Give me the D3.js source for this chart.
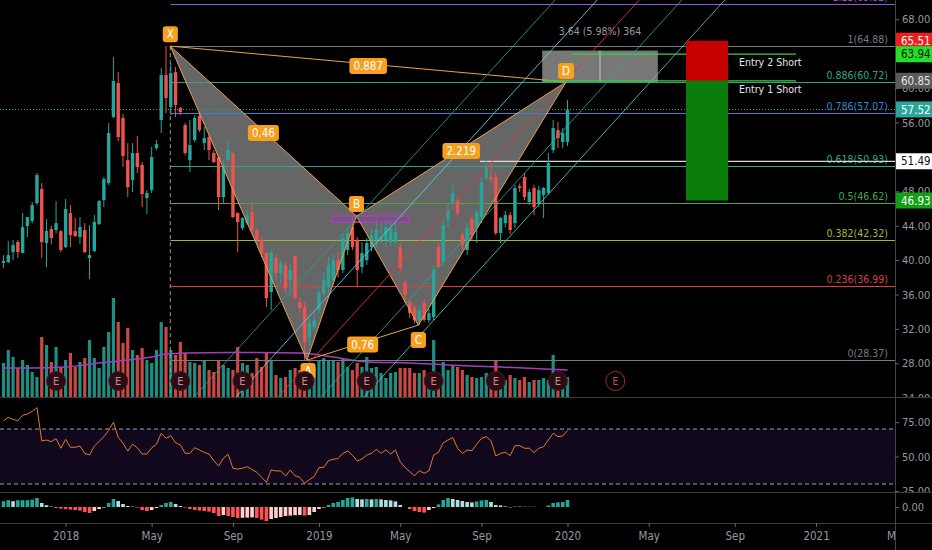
<!DOCTYPE html>
<html>
<head>
<meta charset="utf-8">
<script src="https://d3js.org/d3.v7.min.js"></script>
<style>
html, body { margin: 0; padding: 0; background: #000; }
svg { display: block; font-family: "Liberation Sans Narrow", "DejaVu Sans Condensed", Roboto, sans-serif; }
</style>
</head>
<body>
<svg id="chart" width="932" height="550"></svg>
<script>
/* weekly bars, Oct 2017 - Jan 2020 */
var firstWeek = new Date(2017, 9, 2);
var lastWeek = new Date(2020, 0, 6);
var weeks = d3.timeMonday.range(firstWeek, d3.timeDay.offset(lastWeek, 1));

var open = [
  39.66, 39.77, 40.93, 42.10, 40.82, 43.96, 44.54, 46.63, 48.26, 41.98,
  43.61, 43.49, 43.37, 41.51, 45.47, 43.37, 42.68, 43.49, 40.24, 41.05,
  44.19, 46.98, 48.96, 56.63, 60.59, 56.52, 51.63, 49.31, 52.45, 51.05,
  47.21, 48.14, 53.02, 56.29, 61.51, 57.80, 61.86, 57.68, 55.70, 51.63,
  53.96, 56.75, 53.61, 54.31, 52.45, 51.98, 47.33, 51.63, 52.45, 45.47,
  43.72, 44.30, 45.58, 43.49, 42.33, 40.82, 36.28, 40.24, 38.49, 39.42,
  37.69, 40.47, 35.12, 34.54, 31.05, 32.21, 34.19, 36.16, 36.86, 37.68,
  40.00, 38.84, 41.17, 43.84, 42.33, 39.19, 40.00, 41.51, 42.33, 42.33,
  42.33, 42.10, 42.10, 41.51, 37.33, 35.12, 34.42, 33.03, 35.00, 33.03,
  33.38, 41.51, 39.77, 44.66, 46.63, 46.98, 42.90, 41.17, 44.77, 43.84,
  45.00, 49.54, 49.66, 49.66, 43.14, 44.30, 45.23, 44.30, 48.60, 49.66,
  46.75, 48.38, 46.63, 47.56, 47.80, 52.80, 55.12, 53.73, 53.73
];
var high = [
  40.58, 42.21, 42.33, 42.33, 45.47, 45.00, 46.75, 50.12, 48.96, 44.77,
  43.96, 46.86, 43.49, 47.10, 46.40, 44.89, 45.00, 44.30, 44.07, 45.24,
  46.98, 49.66, 55.93, 63.61, 61.86, 56.98, 53.60, 53.60, 54.43, 51.40,
  48.14, 53.14, 53.96, 62.33, 64.88, 62.91, 62.45, 57.80, 55.93, 56.29,
  56.86, 57.21, 55.47, 54.54, 52.80, 52.21, 51.63, 53.96, 52.56, 45.58,
  45.00, 45.82, 46.75, 43.72, 42.56, 40.93, 41.17, 40.59, 40.00, 39.66,
  39.66, 40.59, 35.70, 35.10, 33.26, 33.84, 36.86, 38.50, 40.35, 40.60,
  40.90, 43.14, 43.84, 45.12, 42.70, 42.10, 42.56, 43.72, 44.66, 44.30,
  44.66, 44.54, 44.43, 41.98, 37.68, 35.35, 34.77, 34.65, 35.35, 34.30,
  39.42, 41.98, 44.80, 46.40, 48.72, 47.33, 43.30, 44.30, 45.20, 45.82,
  49.66, 51.63, 51.30, 50.12, 45.00, 45.70, 45.60, 48.72, 48.90, 50.12,
  48.30, 48.72, 48.60, 48.50, 52.45, 56.30, 56.05, 55.35, 58.62
];
var low = [
  39.07, 39.65, 40.00, 40.24, 40.82, 42.68, 44.30, 46.40, 40.24, 39.19,
  41.86, 43.14, 40.93, 41.40, 41.51, 42.68, 41.86, 40.82, 37.79, 40.93,
  44.07, 46.17, 48.72, 56.52, 53.84, 50.82, 47.33, 47.91, 50.12, 46.17,
  45.35, 47.80, 52.79, 54.77, 57.10, 56.86, 56.63, 56.90, 52.21, 50.24,
  53.73, 54.89, 52.80, 51.63, 51.28, 45.82, 46.63, 51.40, 44.88, 40.93,
  43.49, 44.07, 43.14, 41.98, 40.35, 34.54, 34.19, 37.69, 37.33, 36.17,
  35.70, 35.35, 33.84, 28.37, 30.12, 31.86, 33.84, 35.80, 36.16, 37.20,
  38.00, 38.49, 40.60, 41.17, 36.86, 38.49, 39.42, 41.05, 41.51, 41.98,
  41.51, 41.63, 41.75, 38.49, 35.00, 33.26, 32.68, 32.44, 32.79, 32.70,
  33.03, 39.07, 39.40, 43.84, 45.82, 45.00, 41.20, 40.60, 42.30, 41.98,
  44.30, 49.31, 48.96, 42.90, 41.98, 43.80, 43.00, 43.72, 47.90, 46.98,
  46.40, 45.23, 46.20, 44.89, 47.56, 52.45, 53.03, 53.03, 53.26
];
var close = [
  39.89, 40.58, 41.75, 40.93, 43.84, 45.00, 46.40, 49.89, 42.10, 43.38,
  42.56, 44.30, 41.16, 45.93, 42.91, 42.79, 43.84, 40.93, 40.58, 44.42,
  46.86, 49.42, 54.77, 60.82, 54.31, 52.10, 48.49, 52.45, 50.82, 47.68,
  47.80, 51.98, 53.49, 61.51, 58.84, 61.75, 58.03, 57.21, 52.45, 53.37,
  56.52, 55.12, 54.19, 52.80, 51.40, 47.33, 51.05, 52.80, 45.00, 44.42,
  44.89, 45.23, 43.49, 42.33, 40.82, 35.58, 40.82, 38.49, 39.66, 36.75,
  38.85, 35.58, 34.42, 30.47, 32.68, 33.03, 36.28, 37.68, 39.42, 40.00,
  38.84, 42.56, 43.14, 41.51, 38.84, 40.82, 41.98, 42.91, 43.49, 42.68,
  43.84, 43.72, 43.26, 39.07, 35.93, 33.84, 33.03, 34.19, 33.03, 33.84,
  38.84, 39.19, 44.07, 45.82, 47.80, 45.47, 41.75, 43.72, 42.90, 45.58,
  49.08, 50.82, 49.31, 43.14, 44.89, 45.23, 43.50, 48.38, 48.40, 47.33,
  47.91, 46.17, 48.14, 48.38, 51.28, 55.35, 54.19, 54.77, 57.52
];
// volume in millions
var volume = [
  3.4, 4.7, 4.0, 2.9, 3.7, 3.2, 2.5, 2.0, 6.0, 5.2,
  3.5, 5.0, 2.9, 3.7, 4.4, 3.0, 3.5, 3.9, 5.7, 3.9,
  2.9, 5.0, 6.5, 9.9, 7.5, 5.4, 6.9, 4.7, 4.2, 4.9,
  3.7, 3.4, 4.7, 7.5, 7.0, 4.7, 4.2, 5.5, 4.4, 3.5,
  3.4, 3.2, 3.7, 2.7, 2.5, 3.7, 3.2, 2.9, 2.7, 5.0,
  3.4, 3.2, 2.4, 3.9, 3.0, 4.4, 3.7, 2.2, 1.9, 2.0,
  2.7, 2.9, 2.7, 3.0, 2.9, 3.0, 3.7, 3.9, 3.7, 3.7,
  3.5, 3.9, 3.0, 2.7, 3.4, 3.0, 4.0, 2.9, 3.0, 2.4,
  1.9, 2.4, 2.5, 2.9, 2.9, 2.9, 2.4, 2.4, 2.7, 2.2,
  5.7, 2.4, 3.5, 2.7, 3.2, 3.0, 2.7, 2.2, 2.0, 1.9,
  2.0, 2.4, 1.9, 3.7, 2.2, 1.7, 2.2, 1.9, 1.7, 2.0,
  1.5, 1.7, 1.7, 1.9, 1.7, 4.2, 2.2, 1.5, 2.0
];
var volMaWeek = [0, 6, 13, 20, 26, 31, 34, 38, 50, 62, 69, 76, 85, 93, 104, 118];
var volMaValue = [2.9, 2.9, 3.0, 3.4, 3.7, 4.0, 4.3, 4.4, 4.45, 4.4, 4.0, 3.5, 3.4, 3.2, 3.0, 2.7];
var rsi = [
  76, 78.5, 77, 76, 80, 80.9, 82.8, 85.5, 61.3, 62,
  60.8, 63, 56, 62.5, 56.7, 56.7, 57.6, 52.3, 51.1, 57.5,
  61, 64.4, 69, 74.9, 64, 59.6, 54, 58.9, 56.4, 51.8,
  51.8, 56.3, 58.9, 66.9, 63.2, 65.1, 60, 58.4, 52.3, 52.3,
  56.4, 54.7, 53, 51.8, 47, 43.1, 48.7, 51.6, 41.4, 40.9,
  41.4, 42.6, 40.5, 38.5, 35, 31.2, 40.2, 39.5, 39.5, 35.8,
  40.2, 36, 34.8, 30.5, 33.2, 35.5, 41.9, 42.1, 47, 48,
  48.5, 52.3, 54, 51, 46.7, 48.2, 51, 52.3, 55.2, 52.3,
  54.7, 51.8, 54.7, 46.2, 42.1, 39, 36, 39.7, 37.8, 39.5,
  51.1, 53, 60, 62, 63.7, 56, 52.3, 54.7, 54.2, 58.9,
  63.2, 64.4, 61.5, 50.4, 52.3, 53, 50.6, 57.9, 57.9, 56,
  56, 52.8, 56, 57.1, 62, 66.9, 64.4, 64.9, 68.8
];
var macdHist = [
  .29, .34, .29, .34, .34, .34, .37, .45, .20, .09,
  .02, -.05, -.08, -.10, -.13, -.15, -.18, -.25, -.30, -.20,
  -.10, -.03, .20, .40, .30, .15, .05, .02, -.03, -.15,
  -.20, -.15, -.05, .10, .20, .25, .15, .05, -.03, -.10,
  -.15, -.18, -.20, -.23, -.30, -.45, -.40, -.45, -.50, -.55,
  -.54, -.53, -.52, -.55, -.63, -.70, -.60, -.55, -.50, -.45,
  -.43, -.41, -.40, -.43, -.40, -.25, -.10, -.03, .10, .20,
  .25, .35, .45, .48, .40, .38, .40, .38, .40, .38,
  .35, .33, .28, .10, 0, -.10, -.20, -.25, -.28, -.15,
  -.05, .13, .35, .45, .40, .35, .30, .25, .23, .28,
  .33, .35, .25, .10, .08, .03, -.03, .03, .02, .02,
  .02, .01, 0, 0, .08, .20, .23, .25, .35
];
var earningsWeek = [11, 24, 37, 50, 63, 76, 90, 103, 116, 128];

/* fib retracement of the XA leg */
var fibRatio = ['1.13', '1', '0.886', '0.786', '0.618', '0.5', '0.382', '0.236', '0'];
var fibPrice = [69.82, 64.88, 60.72, 57.07, 50.93, 46.62, 42.32, 36.99, 28.37];
var fibColor = ['#8e5bc8', '#787b86', '#2fa58c', '#3d7fd0', '#2fa58c', '#45a845', '#a6b43c', '#d9403f', '#787b86'];

/* XABCD pattern (week number from first bar, price) */
var patName = ['X', 'A', 'B', 'C', 'D'];
var patWeek = [34.9, 63.5, 73.85, 86.8, 117.7];
var patPrice = [64.88, 28.37, 45.12, 32.44, 60.72];
var patRatio = ['0.46', '0.887', '2.219', '0.76'];

/* pitchfork-style parallel lines */
var forkStartWeek = [39.85, 48.64, 57.43, 66.42, 75.42];
var forkEndWeek = [115.4, 124.2, 133.0, 141.9, 150.9];
var forkStartPrice = 24.08, forkEndPrice = 70.24;
var forkColor = ['#2b9e8f', '#5fd3e8', '#e53935', '#26a69a', '#52c7c9'];

var measureWeek = [112.7, 124.8, 136.9];
var measurePrice = [60.72, 64.36];
var entryPrice = [63.94, 60.85];
var entryStartWeek = [118.9, 112.7];
var entryEndWeek = 165.8;
var entryText = ['Entry 2 Short', 'Entry 1 Short'];
var positionWeek = [142.8, 151.6];
var stopPrice = 65.51, targetPrice = 46.93;
var whiteLinePrice = 51.49, whiteLineWeek = 99.7;
var lastPrice = 57.52;
// 64.00 and 52.00 sit fully behind the price labels, so they are left out
var priceTicks = [24, 28, 32, 36, 40, 44, 48, 56, 60, 68];

var axisLabels = [65.51, 63.94, 60.85, 57.52, 51.49, 46.93];
var axisLabelBg = ['#f21c1c', '#22e022', '#5a5a5a', '#2aa69a', '#ffffff', '#12a012'];
var axisLabelFg = ['#ffffff', '#111111', '#e6e6e6', '#ffffff', '#111111', '#ffffff'];

/* layout */
var width = 932, height = 550;
var axisX = 895;
var mainBottom = 397, rsiBottom = 492, macdBottom = 523;
var fontFam = '"Liberation Sans Narrow", "DejaVu Sans Condensed", Roboto, sans-serif';

var svg = d3.select('#chart');
var defs = svg.append('defs');
function addClip(id, x, y, w, h) {
    defs.append('clipPath').attr('id', id).append('rect')
        .attr('x', x).attr('y', y).attr('width', w).attr('height', h);
}
addClip('clipMain', 0, 0, axisX, mainBottom);
addClip('clipRsi', 0, mainBottom, axisX, rsiBottom - mainBottom);
addClip('clipMacd', 0, rsiBottom, axisX, macdBottom - rsiBottom);
addClip('clipAxisMain', axisX, 0, width - axisX, mainBottom);
addClip('clipAxisRsi', axisX, mainBottom, width - axisX, rsiBottom - mainBottom);
addClip('clipTime', 0, macdBottom, axisX, height - macdBottom);

svg.append('rect').attr('width', width).attr('height', height).attr('fill', '#000');

var x = d3.scaleTime().domain([firstWeek, lastWeek]).range([3.5, 567.5]);
var yMain = d3.scaleLinear().domain([28, 68]).range([363.3, 19.3]);
var yVol = d3.scaleLinear().domain([0, 10]).range([mainBottom, mainBottom - 100]);
var yRsi = d3.scaleLinear().domain([30, 70]).range([484, 429]);
var yMacd = d3.scaleLinear().domain([0, 1]).range([507, 487]);

function wk(n) { return new Date(+firstWeek + n * 6048e5); }
function xw(n) { return x(wk(n)); }

var bars = weeks.map(function(d, i) {
    return {date: d, o: open[i], h: high[i], l: low[i], c: close[i], v: volume[i]};
});
var up = '#26a69a', down = '#ef5350';
function barColor(d) { return d.c >= d.o ? up : down; }

/* ---------- main pane ---------- */
var gMain = svg.append('g').attr('clip-path', 'url(#clipMain)');

// volume
gMain.selectAll('rect.vol').data(bars).enter().append('rect')
    .attr('x', function(d) { return x(d.date) - 1.6; })
    .attr('width', 3.2)
    .attr('y', function(d) { return yVol(d.v); })
    .attr('height', function(d) { return yVol(0) - yVol(d.v); })
    .attr('fill', barColor)
    .attr('opacity', 0.85);

gMain.append('path')
    .datum(volMaWeek.map(function(w, i) { return [xw(w), yVol(volMaValue[i])]; }))
    .attr('d', d3.line().curve(d3.curveMonotoneX))
    .attr('fill', 'none').attr('stroke', '#a43cc0').attr('stroke-width', 1.5);

// pattern fill (behind bars)
var pts = patName.map(function(n, i) { return [xw(patWeek[i]), yMain(patPrice[i])]; });
[[0, 1, 2], [2, 3, 4]].forEach(function(tri) {
    gMain.append('polygon')
        .attr('points', tri.map(function(k) { return pts[k].join(','); }).join(' '))
        .attr('fill', 'rgba(165,165,165,0.62)');
});

// fib levels
fibPrice.forEach(function(p, i) {
    gMain.append('line')
        .attr('x1', xw(patWeek[0])).attr('x2', axisX)
        .attr('y1', Math.round(yMain(p)) + 0.5).attr('y2', Math.round(yMain(p)) + 0.5)
        .attr('stroke', fibColor[i]).attr('stroke-width', 1);
    gMain.append('text')
        .attr('x', axisX - 7).attr('y', yMain(p) - 3)
        .attr('text-anchor', 'end').attr('font-size', 10.5)
        .attr('fill', fibColor[i])
        .text(fibRatio[i] + '(' + p.toFixed(2) + ')');
});

// last price dotted line
gMain.append('line')
    .attr('x1', 0).attr('x2', axisX)
    .attr('y1', yMain(lastPrice)).attr('y2', yMain(lastPrice))
    .attr('stroke', '#26a69a').attr('stroke-dasharray', '1,2');

// white level
gMain.append('line')
    .attr('x1', xw(whiteLineWeek)).attr('x2', axisX)
    .attr('y1', yMain(whiteLinePrice)).attr('y2', yMain(whiteLinePrice))
    .attr('stroke', '#d8d8d8').attr('stroke-width', 1.2);

// dashed vertical at X
gMain.append('line')
    .attr('x1', xw(patWeek[0])).attr('x2', xw(patWeek[0]))
    .attr('y1', yMain(patPrice[0])).attr('y2', mainBottom)
    .attr('stroke', '#9a9a9a').attr('stroke-dasharray', '4,3');

// candles
gMain.selectAll('line.wick').data(bars).enter().append('line')
    .attr('x1', function(d) { return x(d.date); })
    .attr('x2', function(d) { return x(d.date); })
    .attr('y1', function(d) { return yMain(d.h); })
    .attr('y2', function(d) { return yMain(d.l); })
    .attr('stroke', barColor).attr('stroke-width', 1);
gMain.selectAll('rect.body').data(bars).enter().append('rect')
    .attr('x', function(d) { return x(d.date) - 1.7; })
    .attr('width', 3.4)
    .attr('y', function(d) { return yMain(Math.max(d.o, d.c)); })
    .attr('height', function(d) { return Math.max(1, Math.abs(yMain(d.o) - yMain(d.c))); })
    .attr('fill', barColor);

// B zone box
gMain.append('rect')
    .attr('x', xw(68.7)).attr('width', xw(84.8) - xw(68.7))
    .attr('y', yMain(patPrice[2])).attr('height', yMain(44.42) - yMain(patPrice[2]))
    .attr('fill', 'rgba(156,39,176,0.2)').attr('stroke', '#b03ac8').attr('stroke-width', 1.5);

// measure box
gMain.append('rect')
    .attr('x', xw(measureWeek[0])).attr('width', xw(measureWeek[2]) - xw(measureWeek[0]))
    .attr('y', yMain(measurePrice[1])).attr('height', yMain(measurePrice[0]) - yMain(measurePrice[1]))
    .attr('fill', 'rgba(150,150,150,0.8)');
gMain.append('line')
    .attr('x1', xw(measureWeek[1])).attr('x2', xw(measureWeek[1]))
    .attr('y1', yMain(measurePrice[1])).attr('y2', yMain(measurePrice[0]))
    .attr('stroke', '#c4c4c4');
gMain.append('text')
    .attr('x', xw(measureWeek[1])).attr('y', yMain(measurePrice[1]) - 16)
    .attr('text-anchor', 'middle').attr('font-size', 10.5).attr('fill', '#9598a1')
    .text('3.64 (5.98%) 364');

// pattern edges
var legs = [[0, 1], [1, 2], [0, 2], [2, 3], [3, 4], [2, 4], [0, 4], [1, 3]];
legs.forEach(function(l) {
    gMain.append('line')
        .attr('x1', pts[l[0]][0]).attr('y1', pts[l[0]][1])
        .attr('x2', pts[l[1]][0]).attr('y2', pts[l[1]][1])
        .attr('stroke', '#eaa04a').attr('stroke-width', 1);
});

// pitchfork lines
forkStartWeek.forEach(function(w, i) {
    gMain.append('line')
        .attr('x1', xw(w)).attr('y1', yMain(forkStartPrice))
        .attr('x2', xw(forkEndWeek[i])).attr('y2', yMain(forkEndPrice))
        .attr('stroke', forkColor[i]).attr('stroke-width', 1).attr('opacity', 0.85);
});

// entry lines
entryPrice.forEach(function(p, i) {
    gMain.append('line')
        .attr('x1', xw(entryStartWeek[i])).attr('x2', xw(entryEndWeek))
        .attr('y1', yMain(p)).attr('y2', yMain(p))
        .attr('stroke', '#3ccf3c').attr('stroke-width', 1.3);
    gMain.append('text')
        .attr('x', xw(153.9)).attr('y', yMain(p) + 12)
        .attr('font-size', 10.5).attr('fill', '#e6e6e6')
        .text(entryText[i]);
});

// short position
gMain.append('rect')
    .attr('x', xw(positionWeek[0])).attr('width', xw(positionWeek[1]) - xw(positionWeek[0]))
    .attr('y', yMain(stopPrice)).attr('height', yMain(entryPrice[1]) - yMain(stopPrice))
    .attr('fill', '#c40000');
gMain.append('rect')
    .attr('x', xw(positionWeek[0])).attr('width', xw(positionWeek[1]) - xw(positionWeek[0]))
    .attr('y', yMain(entryPrice[1])).attr('height', yMain(targetPrice) - yMain(entryPrice[1]))
    .attr('fill', '#0b7d0b');

// orange tags
function tag(g, cx, cy, text, minW) {
    var t = g.append('g');
    var r = t.append('rect');
    var tx = t.append('text').attr('x', cx).attr('y', cy).attr('dy', '0.36em')
        .attr('text-anchor', 'middle').attr('font-size', 11.5).attr('fill', '#fff').text(text);
    var w = Math.max(minW, tx.node().getComputedTextLength() + 8);
    r.attr('x', cx - w / 2).attr('y', cy - 8).attr('width', w).attr('height', 16)
        .attr('rx', 3).attr('fill', '#f7a020');
}
var ratioLegs = [[0, 2], [0, 4], [2, 4], [1, 3]];
ratioLegs.forEach(function(l, i) {
    var mx = (pts[l[0]][0] + pts[l[1]][0]) / 2, my = (pts[l[0]][1] + pts[l[1]][1]) / 2 + 2;
    tag(gMain, mx, my, patRatio[i], 0);
});
var vertexOffset = [-12, 11, -12, 15, -11];
pts.forEach(function(p, i) {
    tag(gMain, p[0] + (i === 1 ? 1 : 0), p[1] + vertexOffset[i], patName[i], 12);
});

// earnings markers
earningsWeek.forEach(function(w, i) {
    var future = wk(w) > lastWeek;
    var g = gMain.append('g');
    g.append('circle').attr('cx', xw(w)).attr('cy', 381).attr('r', 9.5)
        .attr('fill', future ? '#000' : '#2a0c14')
        .attr('stroke', future ? '#a02a3a' : '#4d1a24').attr('stroke-width', 1);
    g.append('text').attr('x', xw(w)).attr('y', 381).attr('dy', '0.36em')
        .attr('text-anchor', 'middle').attr('font-size', 11)
        .attr('fill', future ? '#b04a5a' : '#c98c90').text('E');
});

/* ---------- RSI pane ---------- */
var gRsi = svg.append('g').attr('clip-path', 'url(#clipRsi)');
gRsi.append('rect').attr('x', 0).attr('width', axisX)
    .attr('y', yRsi(70)).attr('height', yRsi(30) - yRsi(70)).attr('fill', '#12081e');
[70, 30].forEach(function(v) {
    gRsi.append('line').attr('x1', 0).attr('x2', axisX)
        .attr('y1', yRsi(v)).attr('y2', yRsi(v))
        .attr('stroke', '#a09cb4').attr('stroke-dasharray', '4,3');
});
gRsi.append('path').datum(rsi)
    .attr('d', d3.line().x(function(d, i) { return x(weeks[i]); }).y(function(d) { return yRsi(d); }))
    .attr('fill', 'none').attr('stroke', '#e07a2e').attr('stroke-width', 1);

/* ---------- MACD histogram ---------- */
var gMacd = svg.append('g').attr('clip-path', 'url(#clipMacd)');
gMacd.selectAll('rect').data(macdHist).enter().append('rect')
    .attr('x', function(d, i) { return x(weeks[i]) - 1.8; })
    .attr('width', 3.6)
    .attr('y', function(d) { return yMacd(Math.max(d, 0)); })
    .attr('height', function(d) { return Math.abs(yMacd(d) - yMacd(0)); })
    .attr('fill', function(d, i) {
        var prev = i > 0 ? macdHist[i - 1] : d;
        if (d >= 0) return d >= prev ? '#26a69a' : '#b2dfdb';
        return d < prev ? '#ff5252' : '#ffcdd2';
    });

/* ---------- separators & axes ---------- */
[mainBottom, rsiBottom, macdBottom].forEach(function(y) {
    svg.append('line').attr('x1', 0).attr('x2', width)
        .attr('y1', y + 0.5).attr('y2', y + 0.5).attr('stroke', '#3c3c3c');
});
svg.append('line').attr('x1', axisX + 0.5).attr('x2', axisX + 0.5)
    .attr('y1', 0).attr('y2', height).attr('stroke', '#444');

function styleAxis(g) {
    g.select('.domain').remove();
    g.selectAll('.tick line').attr('stroke', '#666');
    g.selectAll('.tick text').attr('fill', '#9598a1').attr('font-size', 11)
        .attr('font-family', fontFam);
}

svg.append('g').attr('clip-path', 'url(#clipAxisMain)')
    .append('g').attr('transform', 'translate(' + axisX + ',0)')
    .call(d3.axisRight(yMain).tickValues(priceTicks).tickFormat(d3.format('.2f')).tickSize(4).tickPadding(3))
    .call(styleAxis);
svg.append('g').attr('clip-path', 'url(#clipAxisRsi)')
    .append('g').attr('transform', 'translate(' + axisX + ',0)')
    .call(d3.axisRight(yRsi).tickValues([25, 50, 75]).tickFormat(d3.format('.2f')).tickSize(4).tickPadding(3))
    .call(styleAxis);
svg.append('g').attr('transform', 'translate(' + axisX + ',0)')
    .call(d3.axisRight(yMacd).tickValues([0]).tickFormat(d3.format('.2f')).tickSize(4).tickPadding(3))
    .call(styleAxis);

// time axis
var timeTicks = [];
[2018, 2019, 2020, 2021].forEach(function(y) {
    [0, 4, 8].forEach(function(m) { timeTicks.push(d3.timeMonday.ceil(new Date(y, m, 1))); });
});
timeTicks = timeTicks.filter(function(d) { return x(d) < width; });
svg.append('g').attr('clip-path', 'url(#clipTime)')
    .append('g').attr('transform', 'translate(0,' + macdBottom + ')')
    .call(d3.axisBottom(x).tickValues(timeTicks).tickSize(4).tickPadding(5)
        .tickFormat(function(d) { return d.getMonth() < 2 ? d3.timeFormat('%Y')(d) : d3.timeFormat('%b')(d); }))
    .call(styleAxis)
    .selectAll('.tick text').attr('font-size', 11.5);

// price labels on the axis
axisLabels.forEach(function(p, i) {
    var y = yMain(p);
    svg.append('rect').attr('x', axisX + 1).attr('y', y - 8).attr('width', width - axisX - 1).attr('height', 16)
        .attr('fill', axisLabelBg[i]);
    svg.append('text').attr('x', axisX + 6).attr('y', y).attr('dy', '0.36em')
        .attr('font-size', 11.5).attr('fill', axisLabelFg[i]).text(p.toFixed(2));
});
</script>
</body>
</html>
